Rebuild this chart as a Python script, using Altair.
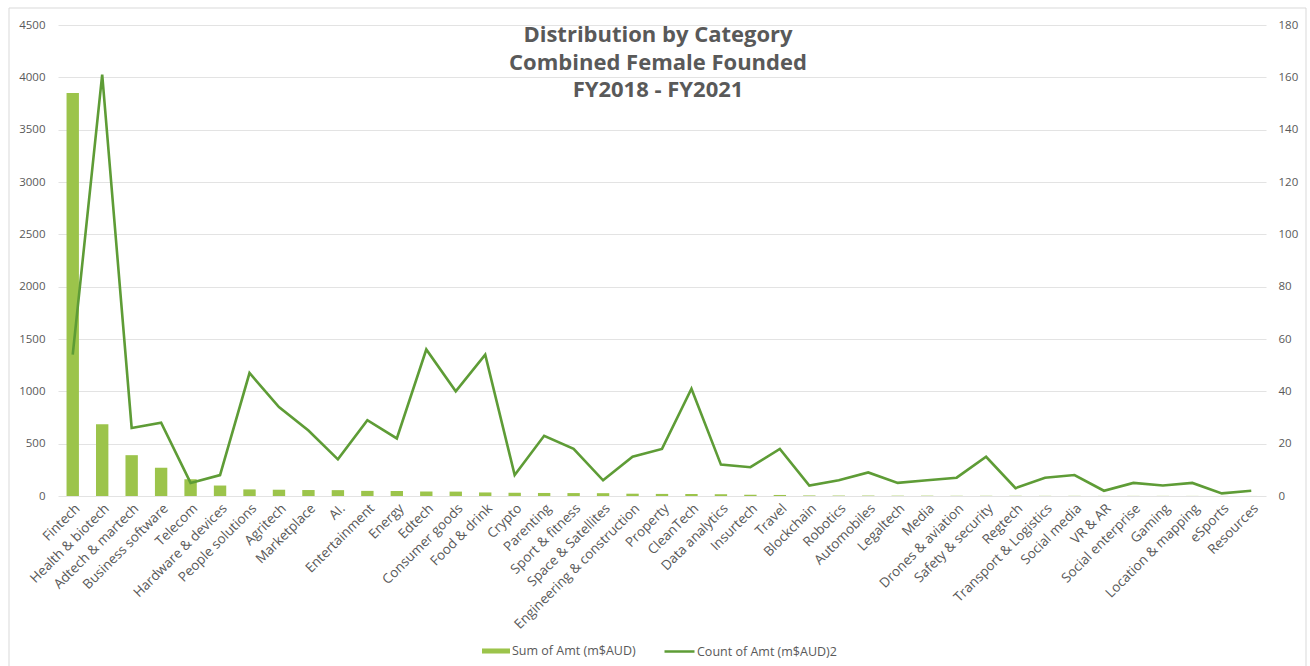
import altair as alt
import pandas as pd

# Funding categories (female-founded companies, FY2018 - FY2021)
categories = [
    "Fintech", "Health & biotech", "Adtech & martech", "Business software", "Telecom",
    "Hardware & devices", "People solutions", "Agritech", "Marketplace", "AI.",
    "Entertainment", "Energy", "Edtech", "Consumer goods", "Food & drink",
    "Crypto", "Parenting", "Sport & fitness", "Space & Satellites",
    "Engineering & construction", "Property", "CleanTech", "Data analytics",
    "Insurtech", "Travel", "Blockchain", "Robotics", "Automobiles", "Legaltech",
    "Media", "Drones & aviation", "Safety & security", "Regtech",
    "Transport & Logistics", "Social media", "VR & AR", "Social enterprise",
    "Gaming", "Location & mapping", "eSports", "Resources",
]

# Sum of amount raised (m$AUD) - left axis
sum_amt = [
    3850, 685, 390, 270, 160, 100, 63, 60, 57, 56,
    49, 48, 43, 42, 34, 31, 29, 28, 27, 22,
    20, 19, 17, 12, 10, 5, 4, 4, 3, 3,
    2, 2, 2, 1.5, 1.5, 1, 1, 1, 0.8, 0.5, 0.3,
]

# Count of deals - right axis
count_amt = [
    54, 161, 26, 28, 5, 8, 47, 34, 25, 14,
    29, 22, 56, 40, 54, 8, 23, 18, 6, 15,
    18, 41, 12, 11, 18, 4, 6, 9, 5, 6,
    7, 15, 3, 7, 8, 2, 5, 4, 5, 1, 2,
]

SUM_LABEL = "Sum of Amt (m$AUD)"
COUNT_LABEL = "Count of Amt (m$AUD)2"
BAR_COLOR = "#9CC44B"
LINE_COLOR = "#5E9C36"
TEXT_COLOR = "#595959"
GRID_COLOR = "#E3E3E3"
FONT = "Open Sans"

df = pd.DataFrame({
    "category": categories,
    "sum_amt": sum_amt,
    "count_amt": count_amt,
    "s": SUM_LABEL,
    "t": COUNT_LABEL,
})

W, H = 1208, 471

x_enc = alt.X(
    "category:N",
    sort=categories,
    title=None,
    scale=alt.Scale(paddingInner=0.58, paddingOuter=0.29),
    axis=alt.Axis(
        labelAngle=-45, labelFontSize=13.5, labelColor=TEXT_COLOR, labelFont=FONT,
        ticks=False, domain=False, grid=False, labelPadding=5, labelOverlap=False,
        labelLimit=400,
    ),
)

bars = alt.Chart(df).mark_bar().encode(
    x=x_enc,
    y=alt.Y(
        "sum_amt:Q",
        title=None,
        scale=alt.Scale(domain=[0, 4500], nice=False),
        axis=alt.Axis(
            values=list(range(0, 4501, 500)), format="d", orient="left",
            labelFontSize=11.5, labelColor=TEXT_COLOR, labelFont=FONT,
            ticks=False, domain=False, grid=True, gridColor=GRID_COLOR,
            gridWidth=1.2, labelPadding=13,
        ),
    ),
    color=alt.Color(
        "s:N",
        scale=alt.Scale(domain=[SUM_LABEL], range=[BAR_COLOR]),
        legend=alt.Legend(
            title=None, orient="none", legendX=424, legendY=612, padding=0,
            symbolType="M-1,-0.18H1V0.18H-1Z", symbolSize=784, symbolStrokeWidth=0,
            labelFontSize=12.5, labelColor=TEXT_COLOR, labelFont=FONT, labelOffset=2,
        ),
    ),
)

line = alt.Chart(df).mark_line(strokeWidth=2.6).encode(
    x=x_enc,
    y=alt.Y(
        "count_amt:Q",
        title=None,
        scale=alt.Scale(domain=[0, 180], nice=False),
        axis=alt.Axis(
            values=list(range(0, 181, 20)), orient="right",
            labelFontSize=11.5, labelColor=TEXT_COLOR, labelFont=FONT,
            ticks=False, domain=False, grid=False, labelPadding=12,
        ),
    ),
    stroke=alt.Stroke(
        "t:N",
        scale=alt.Scale(domain=[COUNT_LABEL], range=[LINE_COLOR]),
        legend=alt.Legend(
            title=None, orient="none", legendX=605, legendY=610, padding=0,
            symbolType="stroke", symbolSize=900, symbolStrokeWidth=2.5,
            labelFontSize=12.5, labelColor=TEXT_COLOR, labelFont=FONT, labelOffset=1,
        ),
    ),
)

# Title drawn over the plot area
title = alt.Chart(alt.Data(values=[{}])).mark_text(
    text=["Distribution by Category", "Combined Female Founded", "FY2018 - FY2021"],
    font=FONT, fontSize=22, fontWeight="bold", color=TEXT_COLOR,
    align="center", baseline="middle", lineHeight=27.5,
).encode(x=alt.value(W / 2 - 4), y=alt.value(10))

# Outer chart frame
frame = alt.Chart(alt.Data(values=[{}])).mark_rect(
    fillOpacity=0, stroke="#D9D9D9", strokeWidth=1,
).encode(
    x=alt.value(-49), x2=alt.value(1248), y=alt.value(-17), y2=alt.value(660),
)

chart = (
    alt.layer(frame, bars, line, title)
    .resolve_scale(y="independent", color="independent", stroke="independent")
    .properties(
        width=W, height=H,
        autosize=alt.AutoSizeParams(type="none"),
        padding={"left": 58, "top": 25, "right": 44, "bottom": 170},
        background="white",
    )
    .configure_view(stroke=None)
)

chart.save("out.html", embed_options={"renderer": "svg", "actions": False})
